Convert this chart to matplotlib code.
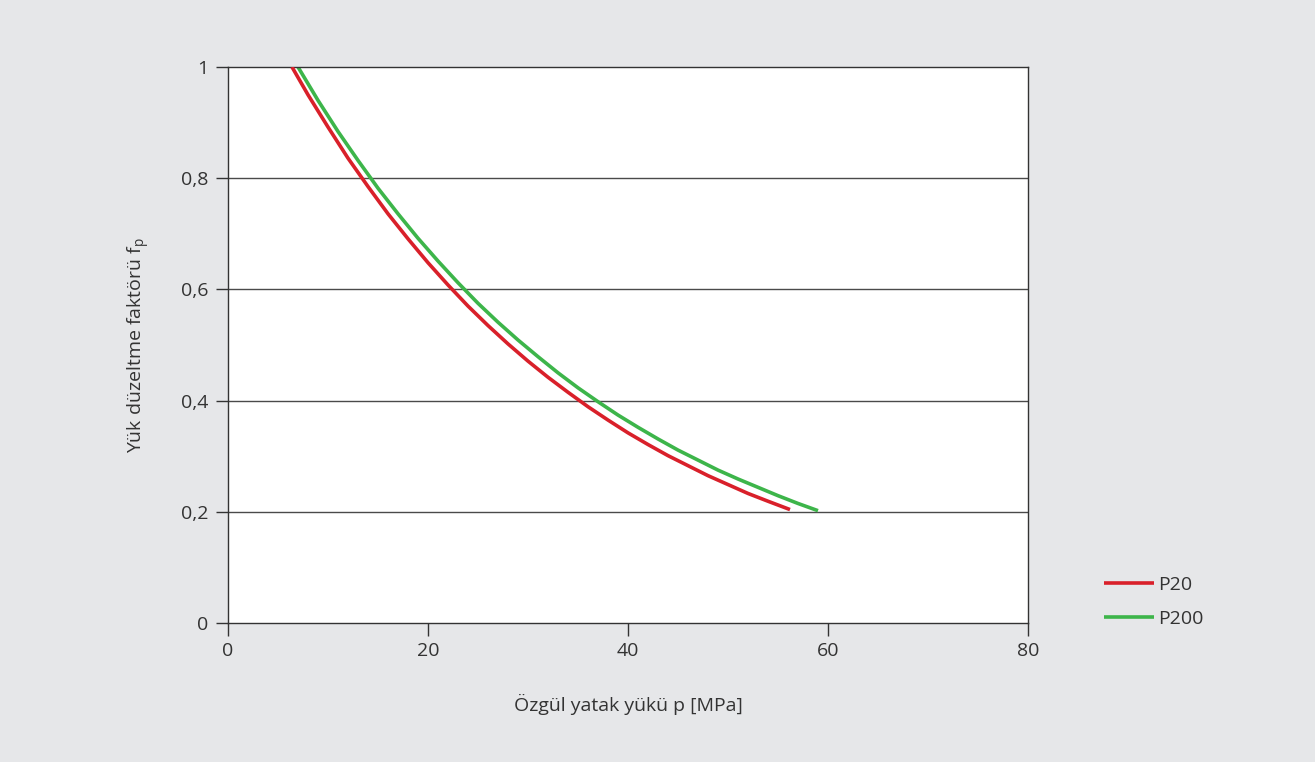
import matplotlib
matplotlib.use("Agg")
import matplotlib.pyplot as plt

plt.rcParams['font.family'] = ['Open Sans', 'DejaVu Sans']

# values
p20_p = [6.4, 8, 10, 12, 14, 16, 18, 20, 22, 24, 26, 28, 30, 32, 34, 36,
         38, 40, 42, 44, 46, 48, 50, 52, 54, 56.2]
p20_f = [1.0, 0.950, 0.892, 0.836, 0.785, 0.736, 0.691, 0.648, 0.608, 0.570,
         0.535, 0.502, 0.471, 0.442, 0.415, 0.389, 0.365, 0.342, 0.321, 0.301,
         0.283, 0.265, 0.249, 0.233, 0.219, 0.204]

p200_p = [7, 9, 11, 13, 15, 17, 19, 21, 23, 25, 27, 29, 31, 33, 35, 37,
          39, 41, 43, 45, 47, 49, 51, 53, 55, 57, 59]
p200_f = [1.0, 0.940, 0.884, 0.832, 0.782, 0.736, 0.692, 0.651, 0.612, 0.575,
          0.541, 0.509, 0.479, 0.450, 0.423, 0.398, 0.374, 0.352, 0.331, 0.311,
          0.293, 0.275, 0.259, 0.244, 0.229, 0.215, 0.202]

x_ticks = [0, 20, 40, 60, 80]
y_ticks = [0, 0.2, 0.4, 0.6, 0.8, 1]
y_tick_labels = ['0', '0,2', '0,4', '0,6', '0,8', '1']

bg = '#e6e7e9'
fig = plt.figure(figsize=(13.15, 7.62), dpi=100, facecolor=bg)
ax = fig.add_axes([228/1315, 139/762, 800/1315, 556/762])
ax.set_facecolor('white')

for y in y_ticks[1:-1]:
    ax.axhline(y, color='#4a4a4a', lw=1.0, zorder=1)

ax.plot(p20_p, p20_f, color='#d9202a', lw=2.6, label='P20', zorder=3,
        solid_capstyle='butt')
ax.plot(p200_p, p200_f, color='#3db54a', lw=2.6, label='P200', zorder=2,
        solid_capstyle='butt')

ax.set_xlim(0, 80)
ax.set_ylim(0, 1)
ax.set_xticks(x_ticks)
ax.set_yticks(y_ticks)
ax.set_yticklabels(y_tick_labels)
ax.tick_params(direction='out', length=9, width=1, color='#333333',
               labelsize=14, labelcolor='#333333', pad=5)

for s in ax.spines.values():
    s.set_color('#333333')
    s.set_linewidth(1.0)

ax.set_xlabel('Özgül yatak yükü p [MPa]', fontsize=14, color='#333333')
ax.xaxis.set_label_coords(0.5, -0.128)
ax.set_ylabel('Yük düzeltme faktörü $\\mathregular{f_p}$', fontsize=14,
              color='#333333')
ax.yaxis.set_label_coords(-0.095, 0.5)

leg = ax.legend(loc='upper left', bbox_to_anchor=(1.085, 0.098),
                frameon=False, fontsize=14, handlelength=2.6,
                handletextpad=0.2, labelspacing=0.82, borderaxespad=0)
for t in leg.get_texts():
    t.set_color('#333333')

fig.savefig('out.png', dpi=100, facecolor=bg)
